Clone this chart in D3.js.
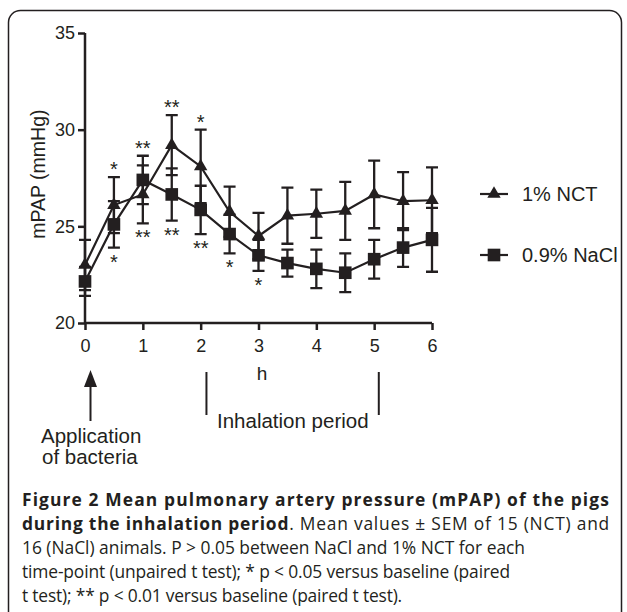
<!DOCTYPE html>
<html>
<head>
<meta charset="utf-8">
<script src="https://cdn.jsdelivr.net/npm/d3@7"></script>
<style>
	body { margin: 0; background: #fff; }
	svg { display: block; }
	.caption { font-family: "Open Sans", sans-serif; font-size: 17.4px; fill: #231f20; }
</style>
</head>
<body>
<div id="chart"></div>
<script>
// time points (h)
const hours = [0, 0.5, 1, 1.5, 2, 2.5, 3, 3.5, 4, 4.5, 5, 5.5, 6];

// 1% NCT mean and SEM
const nctMean = [23.0, 26.1, 26.65, 29.2, 28.1, 25.75, 24.5, 25.55, 25.65, 25.8, 26.65, 26.3, 26.35];
const nctSem = [1.3, 1.45, 1.5, 1.55, 1.9, 1.3, 1.2, 1.45, 1.25, 1.5, 1.75, 1.5, 1.7];

// 0.9% NaCl mean and SEM
const naclMean = [22.15, 25.1, 27.4, 26.65, 25.85, 24.6, 23.5, 23.1, 22.8, 22.6, 23.3, 23.9, 24.3];
const naclSem = [0.75, 1.2, 1.25, 1.35, 1.25, 1.0, 0.8, 0.7, 1.0, 1.0, 1.0, 1.0, 1.65];

// significance markers vs baseline
const sigAbove = [{ t: 0.5, s: "*" }, { t: 1, s: "**" }, { t: 1.5, s: "**" }, { t: 2, s: "*" }];
const sigBelow = [{ t: 0.5, s: "*" }, { t: 1, s: "**" }, { t: 1.5, s: "**" }, { t: 2, s: "**" },
	{ t: 2.5, s: "*" }, { t: 3, s: "*" }];

const yTicks = [20, 25, 30, 35];
const xTicks = [0, 1, 2, 3, 4, 5, 6];

// caption lines with the width each one takes in the figure
const captionLines = [
	{ w: 588, parts: [{ b: true, t: "Figure 2 Mean pulmonary artery pressure (mPAP) of the pigs" }] },
	{ w: 588, parts: [{ b: true, t: "during the inhalation period" }, { b: false, t: ". Mean values \u00b1 SEM of 15 (NCT) and" }] },
	{ w: 503, parts: [{ b: false, t: "16 (NaCl) animals. P > 0.05 between NaCl and 1% NCT for each" }] },
	{ w: 488, parts: [{ b: false, t: "time-point (unpaired t test); * p < 0.05 versus baseline (paired" }] },
	{ w: 380, parts: [{ b: false, t: "t test); ** p < 0.01 versus baseline (paired t test)." }] }
];

const ink = "#231f20";
const W = 627, H = 612;

const svg = d3.select("#chart").append("svg")
	.attr("width", W)
	.attr("height", H);

// outer frame (bottom runs off the page)
svg.append("rect")
	.attr("x", 8.5).attr("y", 10.5)
	.attr("width", 613).attr("height", 640)
	.attr("rx", 12)
	.attr("fill", "none")
	.attr("stroke", ink)
	.attr("stroke-width", 1.5);

const x = d3.scaleLinear().domain([0, 6]).range([85, 432]);
const y = d3.scaleLinear().domain([20, 35]).range([323, 33]);

const font = "'Liberation Sans', Arial, sans-serif";

// axes
const yAxis = svg.append("g")
	.attr("transform", `translate(${x(0)},0)`)
	.call(d3.axisLeft(y).tickValues(yTicks).tickSize(7).tickPadding(3));
const xAxis = svg.append("g")
	.attr("transform", `translate(0,${y(20)})`)
	.call(d3.axisBottom(x).tickValues(xTicks).tickFormat(d3.format("d")).tickSize(7).tickPadding(9));

[yAxis, xAxis].forEach(g => {
	g.select(".domain").attr("stroke", ink).attr("stroke-width", 2.5)
		.attr("d", g === yAxis ? `M0,${y(35)}V${y(20)}` : `M${x(0)},0H${x(6)}`);
	g.selectAll(".tick line").attr("stroke", ink).attr("stroke-width", 2.5);
	g.selectAll(".tick text").attr("fill", ink)
		.style("font-family", font).style("font-size", "18px");
});

svg.append("text")
	.attr("transform", `translate(45,${y(27.7)}) rotate(-90)`)
	.attr("text-anchor", "middle")
	.style("font-family", font).style("font-size", "19.5px")
	.attr("fill", ink)
	.text("mPAP (mmHg)");

svg.append("text")
	.attr("x", 262).attr("y", 380)
	.attr("text-anchor", "middle")
	.style("font-family", font).style("font-size", "19px")
	.attr("fill", ink)
	.text("h");

// series
const series = [
	{ name: "1% NCT", mean: nctMean, sem: nctSem, shape: d3.symbolTriangle, size: 78 },
	{ name: "0.9% NaCl", mean: naclMean, sem: naclSem, shape: d3.symbolSquare, size: 160 }
];

const line = d3.line().x(d => x(d.t)).y(d => y(d.v));
const cap = 6;

series.forEach(s => {
	const pts = hours.map((t, i) => ({ t: t, v: s.mean[i], e: s.sem[i] }));
	const g = svg.append("g");

	g.selectAll("path.err")
		.data(pts)
		.enter()
		.append("path")
		.attr("class", "err")
		.attr("d", d => {
			const cx = x(d.t), hi = y(d.v + d.e), lo = y(d.v - d.e);
			return `M${cx},${hi}V${lo}M${cx - cap},${hi}H${cx + cap}M${cx - cap},${lo}H${cx + cap}`;
		})
		.attr("fill", "none")
		.attr("stroke", ink)
		.attr("stroke-width", 2.3);

	g.append("path")
		.datum(pts)
		.attr("d", line)
		.attr("fill", "none")
		.attr("stroke", ink)
		.attr("stroke-width", 2.2);

	g.selectAll("path.mark")
		.data(pts)
		.enter()
		.append("path")
		.attr("class", "mark")
		.attr("transform", d => `translate(${x(d.t)},${y(d.v)})`)
		.attr("d", d3.symbol().type(s.shape).size(s.size))
		.attr("fill", ink);
});

// significance asterisks: above the highest / below the lowest whisker
const topOf = hours.map((t, i) => Math.max(nctMean[i] + nctSem[i], naclMean[i] + naclSem[i]));
const bottomOf = hours.map((t, i) => Math.min(nctMean[i] - nctSem[i], naclMean[i] - naclSem[i]));

const stars = (list, dir) => {
	svg.selectAll(null)
		.data(list)
		.enter()
		.append("text")
		.attr("x", d => x(d.t))
		.attr("y", d => {
			const i = hours.indexOf(d.t);
			return dir < 0 ? y(topOf[i]) - 1 : y(bottomOf[i]) + 21;
		})
		.attr("text-anchor", "middle")
		.style("font-family", font).style("font-size", "20px")
		.attr("fill", ink)
		.text(d => d.s);
};
stars(sigAbove, -1);
stars(sigBelow, 1);

// legend
const legend = svg.append("g");
series.forEach((s, i) => {
	const ly = 194 + i * 61;
	legend.append("line")
		.attr("x1", 480).attr("x2", 508)
		.attr("y1", ly).attr("y2", ly)
		.attr("stroke", ink).attr("stroke-width", 2.2);
	legend.append("path")
		.attr("transform", `translate(494,${ly})`)
		.attr("d", d3.symbol().type(s.shape).size(s.size))
		.attr("fill", ink);
	legend.append("text")
		.attr("x", 522).attr("y", ly + 7)
		.style("font-family", font).style("font-size", "20px")
		.attr("fill", ink)
		.text(s.name);
});

// annotations under the axis
const ann = svg.append("g").style("font-family", font).style("font-size", "20.5px").attr("fill", ink);
ann.append("line")
	.attr("x1", 90.5).attr("x2", 90.5)
	.attr("y1", 385).attr("y2", 421)
	.attr("stroke", ink).attr("stroke-width", 2);
ann.append("path")
	.attr("d", "M90.5,370L84,387H97Z")
	.attr("fill", ink);
ann.append("text").attr("x", 41).attr("y", 443).text("Application");
ann.append("text").attr("x", 42).attr("y", 464).text("of bacteria");

ann.selectAll("line.period")
	.data([2.1, 5.08])
	.enter()
	.append("line")
	.attr("class", "period")
	.attr("x1", d => x(d)).attr("x2", d => x(d))
	.attr("y1", 372).attr("y2", 415)
	.attr("stroke", ink).attr("stroke-width", 2);
ann.append("text")
	.attr("x", 217).attr("y", 428)
	.text("Inhalation period");

// caption
const capX = 22, cap0 = 506, capStep = 24;
captionLines.forEach((row, i) => {
	const t = svg.append("text")
		.attr("class", "caption")
		.attr("x", capX)
		.attr("y", cap0 + i * capStep);
	row.parts.forEach(p => {
		t.append("tspan")
			.style("font-weight", p.b ? "bold" : "normal")
			.text(p.t);
	});
	// spread (or tighten) the letters so the line takes its width
	const len = t.node().getComputedTextLength();
	const n = row.parts.map(p => p.t).join("").length;
	t.style("letter-spacing", ((row.w - len) / n) + "px");
});
</script>
</body>
</html>
